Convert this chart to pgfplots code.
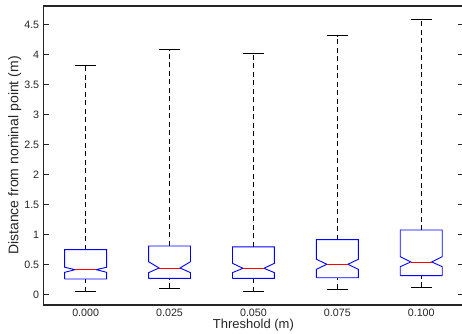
\documentclass[border=0pt]{standalone}
\usepackage{pgfplots}
\pgfplotsset{compat=1.18}
\usepackage{fontspec}
\setmainfont{Liberation Sans}
\definecolor{axgray}{rgb}{0.15,0.15,0.15}
\definecolor{mblue}{rgb}{0,0,1}
\definecolor{mred}{rgb}{1,0,0}
% notched box: center, lower quartile, notch low, median, notch high, upper quartile
\newcommand{\nbox}[6]{%
  \addplot[mblue, line width=0.9pt] coordinates {
    (#1-0.25,#2) (#1+0.25,#2) (#1+0.25,#3) (#1+0.125,#4) (#1+0.25,#5) (#1+0.25,#6)
    (#1-0.25,#6) (#1-0.25,#5) (#1-0.125,#4) (#1-0.25,#3) (#1-0.25,#2)};
  \addplot[mred, line width=0.9pt] coordinates {(#1-0.125,#4) (#1+0.125,#4)};
}
% whiskers: center, lower whisker, lower quartile, upper quartile, upper whisker
\newcommand{\wsk}[5]{%
  \addplot[black, line width=0.7pt, dash pattern=on 5bp off 3.5bp] coordinates {(#1,#4) (#1,#5)};
  \addplot[black, line width=0.7pt, dash pattern=on 5bp off 3.5bp] coordinates {(#1,#2) (#1,#3)};
  \addplot[black, line width=0.9pt] coordinates {(#1-0.125,#5) (#1+0.125,#5)};
  \addplot[black, line width=0.9pt] coordinates {(#1-0.125,#2) (#1+0.125,#2)};
}
\begin{document}
\begin{tikzpicture}
\begin{axis}[
  scale only axis,
  width=419.5bp, height=299bp,
  xmin=0.5, xmax=5.5, ymin=-0.172, ymax=4.812,
  xtick={1,2,3,4,5},
  xticklabels={0.000,0.025,0.050,0.075,0.100},
  ytick={0,0.5,...,4.5},
  yticklabels={0,0.5,1,1.5,2,2.5,3,3.5,4,4.5},
  xtick style={draw=none},
  ytick style={axgray, line width=0.5pt},
  major tick length=5bp,
  tick align=inside,
  axis line style={axgray, line width=1.3pt},
  every tick label/.append style={font=\fontsize{10.7bp}{12bp}\selectfont, text=axgray},
  /pgf/number format/assume math mode=true,
  xticklabel style={yshift=-1bp},
  yticklabel style={xshift=-1bp},
  xlabel={Threshold (m)},
  ylabel={Distance from nominal point (m)},
  xlabel style={font=\fontsize{13bp}{15bp}\selectfont, text=axgray, at={(axis description cs:0.5,-0.0686)}, anchor=center},
  ylabel style={font=\fontsize{14bp}{16bp}\selectfont, text=axgray, at={(axis description cs:-0.0691,0.5)}, anchor=center},
  clip=false,
]
\wsk{1}{0.05}{0.262}{0.752}{3.82}
\wsk{2}{0.107}{0.273}{0.812}{4.08}
\wsk{3}{0.05}{0.273}{0.797}{4.02}
\wsk{4}{0.095}{0.283}{0.917}{4.32}
\wsk{5}{0.128}{0.317}{1.078}{4.59}
\nbox{1}{0.262}{0.373}{0.417}{0.457}{0.752}
\nbox{2}{0.273}{0.367}{0.445}{0.55}{0.812}
\nbox{3}{0.273}{0.367}{0.44}{0.523}{0.797}
\nbox{4}{0.283}{0.423}{0.507}{0.59}{0.917}
\nbox{5}{0.317}{0.467}{0.545}{0.633}{1.078}
\end{axis}
\pgfresetboundingbox
\useasboundingbox ([xshift=-43.7bp,yshift=-28bp]current axis.south west) rectangle ([xshift=-1.2bp,yshift=6bp]current axis.north east);
\end{tikzpicture}
\end{document}
